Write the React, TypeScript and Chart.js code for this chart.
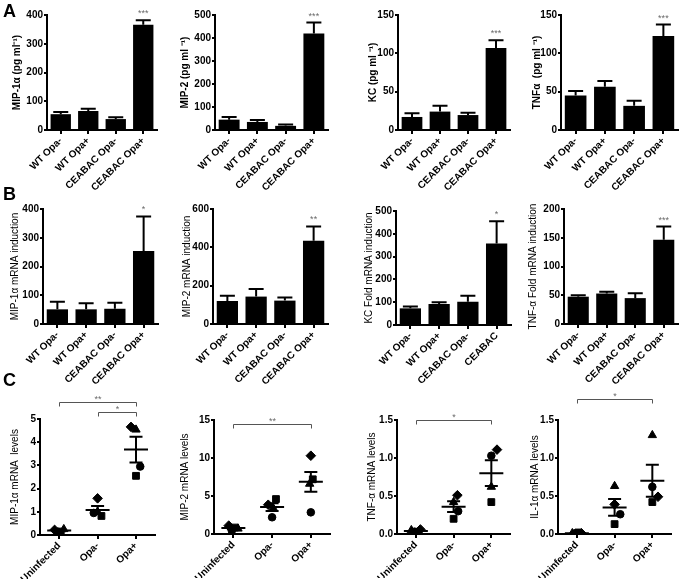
import React, { useEffect, useRef } from 'react';
import { Chart, registerables } from 'chart.js';

Chart.register(...registerables);

const FONT = "'Liberation Sans', Arial, Helvetica, sans-serif";

// ---------- categories ----------
const BAR_CATS = ['WT Opa-', 'WT Opa+', 'CEABAC Opa-', 'CEABAC Opa+'];
const BAR_CATS_KC_FOLD = ['WT Opa-', 'WT Opa+', 'CEABAC Opa-', 'CEABAC'];
const SCATTER_CATS = ['Uninfected', 'Opa-', 'Opa+'];

// ---------- panel A (protein, pg/ml) ----------
const A_MIP1A = [55, 66, 38, 366];
const A_MIP1A_SEM = [8, 8, 6, 16];
const A_MIP2 = [45, 35, 18, 420];
const A_MIP2_SEM = [12, 8, 6, 47];
const A_KC = [17, 24, 19.5, 107];
const A_KC_SEM = [5, 7.5, 3, 10];
const A_TNF = [45, 56.5, 31.5, 122.5];
const A_TNF_SEM = [6, 7.5, 6.5, 15];
const A_SIG = ['', '', '', '***'];

// ---------- panel B (mRNA induction) ----------
const B_MIP1A = [51, 51, 53, 254];
const B_MIP1A_SEM = [26, 21, 21, 120];
const B_MIP1A_SIG = ['', '', '', '*'];
const B_MIP2 = [120, 143, 122, 434];
const B_MIP2_SEM = [27, 40, 16, 75];
const B_MIP2_SIG = ['', '', '', '**'];
const B_KC = [73, 92, 102, 357];
const B_KC_SEM = [8, 8, 26, 98];
const B_KC_SIG = ['', '', '', '*'];
const B_TNF = [47.5, 53, 45, 146.5];
const B_TNF_SEM = [2.5, 3, 8.5, 23];
const B_TNF_SIG = ['', '', '', '***'];

// ---------- panel C (mRNA levels, one value per replicate) ----------
const C1_DIAMOND = [0.22, 1.58, 4.66];
const C1_TRIANGLE = [0.25, 1.0, 4.54];
const C1_CIRCLE = [0.14, 0.95, 2.95];
const C1_SQUARE = [0.15, 0.82, 2.55];
const C1_MEAN = [0.19, 1.08, 3.68];
const C1_SEM = [0.03, 0.17, 0.55];

const C2_DIAMOND = [1.1, 3.85, 10.3];
const C2_TRIANGLE = [0.7, 3.4, 6.6];
const C2_CIRCLE = [0.45, 2.2, 2.85];
const C2_SQUARE = [0.85, 4.6, 7.2];
const C2_MEAN = [0.78, 3.54, 6.87];
const C2_SEM = [0.14, 0.5, 1.3];

const C3_DIAMOND = [0.06, 0.51, 1.11];
const C3_TRIANGLE = [0.05, 0.42, 0.62];
const C3_CIRCLE = [0.03, 0.3, 1.03];
const C3_SQUARE = [0.03, 0.2, 0.42];
const C3_MEAN = [0.04, 0.36, 0.8];
const C3_SEM = [0.01, 0.07, 0.17];

const C4_DIAMOND = [0.01, 0.39, 0.49];
const C4_TRIANGLE = [0.01, 0.63, 1.3];
const C4_CIRCLE = [0.01, 0.26, 0.62];
const C4_SQUARE = [0.02, 0.13, 0.42];
const C4_MEAN = [0.01, 0.35, 0.7];
const C4_SEM = [0.005, 0.11, 0.21];

// horizontal scatter offsets (style only), per shape, per category
const JIT_C1 = { d: [-0.12, 0, -0.13], t: [0.12, 0, 0], c: [-0.04, -0.1, 0.11], s: [0.04, 0.1, 0] };
const JIT_C2 = { d: [-0.12, -0.1, 0], t: [0.12, 0.03, -0.03], c: [-0.04, 0, 0], s: [0.04, 0.1, 0.05] };
const JIT_C3 = { d: [0.12, 0.1, 0.15], t: [-0.12, 0, 0], c: [-0.04, 0.12, 0], s: [0.04, 0, 0] };
const JIT_C4 = { d: [0.12, 0, 0.15], t: [-0.12, 0, 0], c: [-0.04, 0.15, 0], s: [0.04, 0, 0] };

type Box = { axisX: number; right: number; top: number; zero: number; titleX: number; canvasTop: number; xH: number };

type Cfg = {
  kind: 'bar' | 'scatter';
  labels: string[];
  title: string;
  titleBold: boolean;
  yMax: number;
  yStep: number;
  decimals?: number;
  box: Box;
  values?: number[];
  sem?: number[];
  sig?: string[];
  pts?: { d: number[]; t: number[]; c: number[]; s: number[] };
  jit?: { d: number[]; t: number[]; c: number[]; s: number[] };
  mean?: number[];
  msem?: number[];
  brackets?: { from: number; to: number; level: number; label: string }[];
};

const barPlugin = {
  id: 'barExtras',
  afterDatasetsDraw(chart: any, _a: any, opts: any) {
    if (!opts || !opts.sem) return;
    const ctx = chart.ctx;
    const ys = chart.scales.y;
    const meta = chart.getDatasetMeta(0);
    const vals = chart.data.datasets[0].data;
    ctx.save();
    ctx.strokeStyle = '#000';
    ctx.lineWidth = 2;
    meta.data.forEach((bar: any, i: number) => {
      const v = vals[i];
      const yv = ys.getPixelForValue(v);
      const ye = ys.getPixelForValue(v + opts.sem[i]);
      ctx.beginPath();
      ctx.moveTo(bar.x, yv);
      ctx.lineTo(bar.x, ye);
      ctx.moveTo(bar.x - 7.5, ye);
      ctx.lineTo(bar.x + 7.5, ye);
      ctx.stroke();
      const s = opts.sig[i];
      if (s) {
        ctx.fillStyle = '#6a6a6a';
        ctx.font = `9px ${FONT}`;
        ctx.textAlign = 'center';
        ctx.textBaseline = 'alphabetic';
        ctx.fillText(s, bar.x, ye - 4);
      }
    });
    ctx.restore();
  },
};

const scatterPlugin = {
  id: 'scatterExtras',
  afterDatasetsDraw(chart: any, _a: any, opts: any) {
    if (!opts || !opts.mean) return;
    const ctx = chart.ctx;
    const xs = chart.scales.x;
    const ys = chart.scales.y;
    ctx.save();
    ctx.strokeStyle = '#000';
    ctx.lineWidth = 2;
    opts.mean.forEach((m: number, i: number) => {
      const cx = xs.getPixelForValue(i + 1);
      const my = ys.getPixelForValue(m);
      const hi = ys.getPixelForValue(m + opts.sem[i]);
      const lo = ys.getPixelForValue(m - opts.sem[i]);
      ctx.beginPath();
      ctx.moveTo(cx - 12, my);
      ctx.lineTo(cx + 12, my);
      ctx.moveTo(cx, hi);
      ctx.lineTo(cx, lo);
      ctx.moveTo(cx - 6.5, hi);
      ctx.lineTo(cx + 6.5, hi);
      ctx.moveTo(cx - 6.5, lo);
      ctx.lineTo(cx + 6.5, lo);
      ctx.stroke();
    });
    ctx.lineWidth = 1;
    ctx.strokeStyle = '#555';
    ctx.fillStyle = '#6a6a6a';
    ctx.font = `9px ${FONT}`;
    ctx.textAlign = 'center';
    ctx.textBaseline = 'alphabetic';
    (opts.brackets || []).forEach((b: any) => {
      const x1 = Math.round(xs.getPixelForValue(b.from)) + 0.5;
      const x2 = Math.round(xs.getPixelForValue(b.to)) + 0.5;
      const yy = Math.round(ys.getPixelForValue(b.level)) + 0.5;
      ctx.beginPath();
      ctx.moveTo(x1, yy + 4);
      ctx.lineTo(x1, yy);
      ctx.lineTo(x2, yy);
      ctx.lineTo(x2, yy + 4);
      ctx.stroke();
      ctx.fillText(b.label, (x1 + x2) / 2, yy - 1);
    });
    ctx.restore();
  },
};

function geom(b: Box) {
  const left = b.titleX - 6;
  return { left, top: b.canvasTop, w: b.right + 4 - left, h: b.zero + b.xH - b.canvasTop };
}

function buildConfig(cfg: Cfg): any {
  const b = cfg.box;
  const g = geom(b);
  const tickFont = { family: FONT, size: 10, weight: 'bold' as const };
  const axisGrid = {
    display: true,
    drawOnChartArea: false,
    drawTicks: true,
    color: '#000',
    tickColor: '#000',
    lineWidth: 2,
    tickWidth: 2,
  };
  const border = { display: true, color: '#000', width: 2 };
  const yScale: any = {
    type: 'linear',
    min: 0,
    max: cfg.yMax,
    ticks: {
      stepSize: cfg.yStep,
      color: '#000',
      font: tickFont,
      padding: 1,
      callback: (v: number) => (cfg.decimals ? Number(v).toFixed(cfg.decimals) : String(v)),
    },
    grid: { ...axisGrid, tickLength: 3 },
    border,
    title: {
      display: true,
      text: cfg.title,
      color: '#000',
      font: { family: FONT, size: 10, weight: cfg.titleBold ? 'bold' : 'normal' },
      padding: 0,
    },
    afterFit: (s: any) => {
      s.width = b.axisX - g.left;
    },
  };
  const xTicks = {
    color: '#000',
    font: tickFont,
    minRotation: 45,
    maxRotation: 45,
    autoSkip: false,
    padding: 1,
  };
  const common = {
    responsive: false,
    animation: false,
    devicePixelRatio: 1,
    layout: { padding: { top: b.top - b.canvasTop, right: 4, left: 0, bottom: 0 } },
    events: [],
  };

  if (cfg.kind === 'bar') {
    return {
      type: 'bar',
      data: {
        labels: cfg.labels,
        datasets: [
          {
            data: cfg.values,
            backgroundColor: '#000',
            borderWidth: 0,
            barPercentage: 0.74,
            categoryPercentage: 1,
          },
        ],
      },
      options: {
        ...common,
        plugins: {
          legend: { display: false },
          tooltip: { enabled: false },
          barExtras: { sem: cfg.sem, sig: cfg.sig },
        },
        scales: {
          x: {
            type: 'category',
            offset: true,
            grid: { ...axisGrid, offset: false, tickLength: 4 },
            border,
            ticks: xTicks,
            afterFit: (s: any) => {
              s.height = b.xH;
            },
          },
          y: yScale,
        },
      },
      plugins: [barPlugin],
    };
  }

  const p = cfg.pts!;
  const j = cfg.jit!;
  const mk = (vals: number[], jit: number[], style: string, r: number) => ({
    data: vals.map((v, i) => ({ x: i + 1 + jit[i], y: v })),
    pointStyle: style,
    pointRadius: r,
    pointBackgroundColor: '#000',
    pointBorderColor: '#000',
    pointBorderWidth: 1,
    showLine: false,
  });
  return {
    type: 'scatter',
    data: {
      datasets: [
        mk(p.s, j.s, 'rect', 4.8),
        mk(p.c, j.c, 'circle', 3.8),
        mk(p.t, j.t, 'triangle', 4.8),
        mk(p.d, j.d, 'rectRot', 4.8),
      ],
    },
    options: {
      ...common,
      plugins: {
        legend: { display: false },
        tooltip: { enabled: false },
        scatterExtras: { mean: cfg.mean, sem: cfg.msem, brackets: cfg.brackets },
      },
      scales: {
        x: {
          type: 'linear',
          min: 0.5,
          max: 3.5,
          offset: false,
          afterBuildTicks: (s: any) => {
            s.ticks = cfg.labels.map((_l, i) => ({ value: i + 1 }));
          },
          grid: { ...axisGrid, tickLength: 4 },
          border,
          ticks: { ...xTicks, callback: (_v: any, i: number) => cfg.labels[i] },
          afterFit: (s: any) => {
            s.height = b.xH;
          },
        },
        y: yScale,
      },
    },
    plugins: [scatterPlugin],
  };
}

const PANELS: Cfg[] = [
  // Row A
  {
    kind: 'bar', labels: BAR_CATS, title: 'MIP-1\u03b1 (pg ml\u207b\u00b9)', titleBold: true, yMax: 400, yStep: 100,
    values: A_MIP1A, sem: A_MIP1A_SEM, sig: A_SIG,
    box: { axisX: 47, right: 157, top: 15, zero: 130, titleX: 17, canvasTop: 0, xH: 66 },
  },
  {
    kind: 'bar', labels: BAR_CATS, title: 'MIP-2 (pg ml \u207b\u00b9)', titleBold: true, yMax: 500, yStep: 100,
    values: A_MIP2, sem: A_MIP2_SEM, sig: A_SIG,
    box: { axisX: 215, right: 328, top: 15, zero: 130, titleX: 185, canvasTop: 0, xH: 66 },
  },
  {
    kind: 'bar', labels: BAR_CATS, title: 'KC (pg ml \u207b\u00b9)', titleBold: true, yMax: 150, yStep: 50,
    values: A_KC, sem: A_KC_SEM, sig: A_SIG,
    box: { axisX: 398, right: 510, top: 15, zero: 130, titleX: 373, canvasTop: 0, xH: 66 },
  },
  {
    kind: 'bar', labels: BAR_CATS, title: 'TNF\u03b1  (pg ml \u207b\u00b9)', titleBold: true, yMax: 150, yStep: 50,
    values: A_TNF, sem: A_TNF_SEM, sig: A_SIG,
    box: { axisX: 561, right: 678, top: 15, zero: 130, titleX: 537, canvasTop: 0, xH: 66 },
  },
  // Row B
  {
    kind: 'bar', labels: BAR_CATS, title: 'MIP-1\u03b1 mRNA induction', titleBold: false, yMax: 400, yStep: 100,
    values: B_MIP1A, sem: B_MIP1A_SEM, sig: B_MIP1A_SIG,
    box: { axisX: 43, right: 158, top: 209, zero: 324, titleX: 15, canvasTop: 195, xH: 66 },
  },
  {
    kind: 'bar', labels: BAR_CATS, title: 'MIP-2 mRNA induction', titleBold: false, yMax: 600, yStep: 200,
    values: B_MIP2, sem: B_MIP2_SEM, sig: B_MIP2_SIG,
    box: { axisX: 213, right: 328, top: 209, zero: 324, titleX: 187, canvasTop: 195, xH: 66 },
  },
  {
    kind: 'bar', labels: BAR_CATS_KC_FOLD, title: 'KC Fold mRNA induction', titleBold: false, yMax: 500, yStep: 100,
    values: B_KC, sem: B_KC_SEM, sig: B_KC_SIG,
    box: { axisX: 396, right: 511, top: 211, zero: 325, titleX: 369, canvasTop: 195, xH: 66 },
  },
  {
    kind: 'bar', labels: BAR_CATS, title: 'TNF-\u03b1 Fold mRNA induction', titleBold: false, yMax: 200, yStep: 50,
    values: B_TNF, sem: B_TNF_SEM, sig: B_TNF_SIG,
    box: { axisX: 564, right: 678, top: 209, zero: 324, titleX: 533, canvasTop: 195, xH: 66 },
  },
  // Row C
  {
    kind: 'scatter', labels: SCATTER_CATS, title: 'MIP-1\u03b1 mRNA  levels', titleBold: false, yMax: 5, yStep: 1,
    pts: { d: C1_DIAMOND, t: C1_TRIANGLE, c: C1_CIRCLE, s: C1_SQUARE }, jit: JIT_C1, mean: C1_MEAN, msem: C1_SEM,
    brackets: [
      { from: 1, to: 3, level: 5.73, label: '**' },
      { from: 2, to: 3, level: 5.3, label: '*' },
    ],
    box: { axisX: 40, right: 157, top: 419, zero: 535, titleX: 15, canvasTop: 378, xH: 44 },
  },
  {
    kind: 'scatter', labels: SCATTER_CATS, title: 'MIP-2 mRNA levels', titleBold: false, yMax: 15, yStep: 5,
    pts: { d: C2_DIAMOND, t: C2_TRIANGLE, c: C2_CIRCLE, s: C2_SQUARE }, jit: JIT_C2, mean: C2_MEAN, msem: C2_SEM,
    brackets: [{ from: 1, to: 3, level: 14.5, label: '**' }],
    box: { axisX: 214, right: 332, top: 420, zero: 534, titleX: 185, canvasTop: 378, xH: 44 },
  },
  {
    kind: 'scatter', labels: SCATTER_CATS, title: 'TNF-\u03b1 mRNA levels', titleBold: false, yMax: 1.5, yStep: 0.5, decimals: 1,
    pts: { d: C3_DIAMOND, t: C3_TRIANGLE, c: C3_CIRCLE, s: C3_SQUARE }, jit: JIT_C3, mean: C3_MEAN, msem: C3_SEM,
    brackets: [{ from: 1, to: 3, level: 1.5, label: '*' }],
    box: { axisX: 397, right: 512, top: 420, zero: 534, titleX: 372, canvasTop: 378, xH: 44 },
  },
  {
    kind: 'scatter', labels: SCATTER_CATS, title: 'IL-1\u03b1 mRNA levels', titleBold: false, yMax: 1.5, yStep: 0.5, decimals: 1,
    pts: { d: C4_DIAMOND, t: C4_TRIANGLE, c: C4_CIRCLE, s: C4_SQUARE }, jit: JIT_C4, mean: C4_MEAN, msem: C4_SEM,
    brackets: [{ from: 1, to: 3, level: 1.78, label: '*' }],
    box: { axisX: 558, right: 673, top: 420, zero: 534, titleX: 535, canvasTop: 378, xH: 44 },
  },
];

function ChartPanel({ cfg }: { cfg: Cfg }) {
  const ref = useRef<HTMLCanvasElement>(null);
  useEffect(() => {
    const chart = new Chart(ref.current as HTMLCanvasElement, buildConfig(cfg));
    return () => chart.destroy();
  }, [cfg]);
  const g = geom(cfg.box);
  return (
    <canvas
      ref={ref}
      width={g.w}
      height={g.h}
      style={{ position: 'absolute', left: g.left, top: g.top, width: g.w, height: g.h }}
    />
  );
}

const letterStyle = (top: number): React.CSSProperties => ({
  position: 'absolute',
  left: 3,
  top,
  fontFamily: FONT,
  fontWeight: 'bold',
  fontSize: 18,
  lineHeight: '18px',
  color: '#000',
});

export default function App() {
  return (
    <div
      style={{
        position: 'absolute',
        left: 0,
        top: 0,
        width: 684,
        height: 580,
        overflow: 'hidden',
        background: '#fff',
      }}
    >
      {PANELS.map((cfg, i) => (
        <ChartPanel key={i} cfg={cfg} />
      ))}
      <div style={letterStyle(2)}>A</div>
      <div style={letterStyle(185)}>B</div>
      <div style={letterStyle(371)}>C</div>
    </div>
  );
}
